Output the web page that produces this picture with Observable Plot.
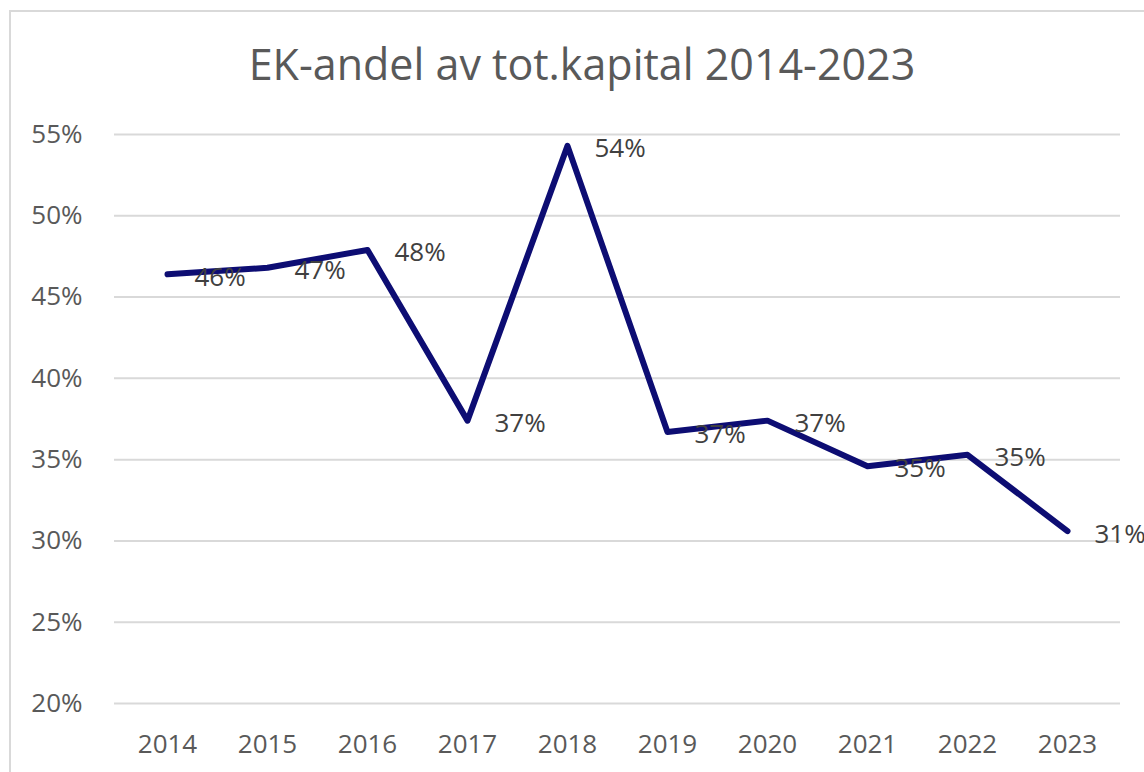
<!DOCTYPE html>
<html>
<head>
<meta charset="utf-8">
<script src="https://cdn.jsdelivr.net/npm/d3@7"></script>
<script src="https://cdn.jsdelivr.net/npm/@observablehq/plot@0.6"></script>
<style>
  html, body { margin: 0; padding: 0; background: #fff; overflow: hidden; }
  #wrap { position: relative; width: 1144px; height: 772px; }
  #border { position: absolute; left: 9px; top: 10px; width: 1200px; height: 900px;
            border: 2px solid #d9d9d9; box-sizing: border-box; }
  #title { position: absolute; left: 0; width: 1164px; top: 42px; text-align: center;
           font-family: "Open Sans", sans-serif; font-size: 43px; color: #595959; line-height: 1; }
  #chart { position: absolute; left: 0; top: 0; }
</style>
</head>
<body>
<div id="wrap">
  <div id="border"></div>
  <div id="title">EK-andel av tot.kapital 2014-2023</div>
  <div id="chart"></div>
</div>
<script>
const years = ["2014","2015","2016","2017","2018","2019","2020","2021","2022","2023"];
const shares = [46.4, 46.8, 47.9, 37.4, 54.3, 36.7, 37.4, 34.6, 35.3, 30.6];
const yTicks = [20, 25, 30, 35, 40, 45, 50, 55];

const data = years.map((y, i) => ({year: y, value: shares[i]}));
const font = '"Open Sans", sans-serif';

const chart = Plot.plot({
  width: 1144,
  height: 772,
  marginLeft: 114,
  marginRight: 24,
  marginTop: 134,
  marginBottom: 69,
  style: {fontFamily: font, background: "transparent"},
  x: {type: "point", domain: years, padding: 0.5},
  y: {domain: [20, 55]},
  marks: [
    Plot.ruleY(yTicks, {stroke: "#d9d9d9", strokeWidth: 2}),
    Plot.axisY({ticks: yTicks, tickSize: 0, tickPadding: 32, tickFormat: d => d + "%",
                fontSize: 26, fill: "#595959", label: null}),
    Plot.axisX({tickSize: 0, tickPadding: 31, fontSize: 26, fill: "#595959", label: null}),
    Plot.line(data, {x: "year", y: "value", stroke: "#0d0d73", strokeWidth: 6,
                     strokeLinejoin: "round", strokeLinecap: "round"}),
    Plot.text(data, {x: "year", y: "value", text: d => Math.round(d.value) + "%",
                     textAnchor: "start", dx: 27, dy: 3, fontSize: 26, fill: "#404040"})
  ]
});
document.getElementById("chart").appendChild(chart);
</script>
</body>
</html>
